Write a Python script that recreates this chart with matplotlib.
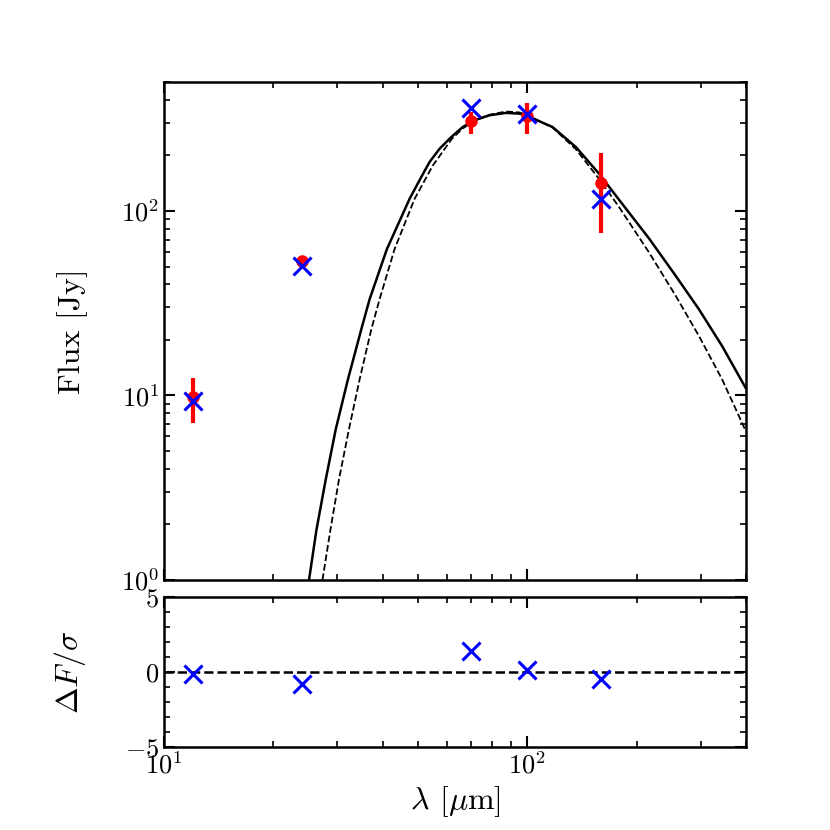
import numpy as np
import matplotlib
matplotlib.use('Agg')
from matplotlib import pyplot as plt
from matplotlib.ticker import MultipleLocator, NullFormatter

plt.rcParams['font.family'] = ['cmr10', 'DejaVu Serif']
plt.rcParams['mathtext.fontset'] = 'cm'
plt.rcParams['axes.unicode_minus'] = False
plt.rcParams['axes.formatter.use_mathtext'] = True

# photometry
wave = [12, 24, 70, 100, 160]
flux_obs = [9.8, 53.5, 307, 326, 142]
err_lo = [2.7, 1.5, 45, 66, 66]
err_hi = [2.7, 1.5, 37, 59, 65]
flux_model = [9.3, 50.5, 363, 337, 116]
resid = [-0.1, -0.8, 1.38, 0.16, -0.44]

# fitted SEDs
sed_wave = [25.07, 26.28, 27.87, 29.69, 32.08, 34.92, 36.81, 41.07, 47.41,
            51.0, 53.8, 57.3, 61.7, 66.4, 71.5, 78.6, 87.4, 95.1, 99.1,
            117.4, 136.1, 157.7, 178.9, 216.3, 256.2, 296.9, 344, 399]
sed_flux = [1.0, 1.87, 3.50, 6.54, 12.22, 22.84, 33.24, 62.14, 116.2,
            152, 184, 217, 251, 285, 310, 330, 340, 337, 330,
            285, 222, 159, 115, 71, 44.5, 29.3, 18.5, 11.0]
sed2_wave = [27.30, 28.71, 30.31, 32.28, 34.55, 37.21, 39.21, 43.12, 48.94,
             54.94, 62.0, 66.4, 71.5, 78.6, 87.4, 95.1, 99.1,
             117.4, 136.1, 157.7, 178.9, 216.3, 256.2, 296.9, 344, 399]
sed2_flux = [1.0, 1.87, 3.50, 6.54, 12.22, 22.84, 33.24, 62.14, 116.2,
             176.3, 246, 280, 308, 332, 346, 342, 333,
             283, 216, 149, 105, 59.6, 34.7, 21.0, 12.2, 6.45]

fig = plt.figure(figsize=(8.3, 8.3), dpi=100)
ax1 = fig.add_axes([0.1976, 0.3012, 0.7012, 0.6])
ax2 = fig.add_axes([0.1976, 0.1, 0.7012, 0.1807])

ax1.plot(sed_wave, sed_flux, color='k', lw=1.8)
ax1.plot(sed2_wave, sed2_flux, color='k', lw=1.3, ls='--')
ax1.errorbar(wave, flux_obs, yerr=[err_lo, err_hi], fmt='o', color='red',
             ms=8, elinewidth=3, capsize=0, zorder=3)
ax1.plot(wave, flux_model, 'x', color='blue', ms=13, mew=2.2, zorder=4)
ax1.set_xscale('log')
ax1.set_yscale('log')
ax1.set_xlim(10, 400)
ax1.set_ylim(1, 500)
ax1.set_ylabel('Flux [Jy]', fontsize=23)
ax1.xaxis.set_major_formatter(NullFormatter())
ax1.xaxis.set_minor_formatter(NullFormatter())

ax2.axhline(0, color='k', ls='--', lw=1.8)
ax2.plot(wave, resid, 'x', color='blue', ms=13, mew=2.2)
ax2.set_xscale('log')
ax2.set_xlim(10, 400)
ax2.set_ylim(-5, 5)
ax2.yaxis.set_major_locator(MultipleLocator(5))
ax2.yaxis.set_minor_locator(MultipleLocator(1))
ax2.set_ylabel(r'$\Delta F/\sigma$', fontsize=23)
ax2.set_xlabel(r'$\lambda$ [$\mu$m]', fontsize=23)
ax2.xaxis.set_minor_formatter(NullFormatter())

for ax in (ax1, ax2):
    for s in ax.spines.values():
        s.set_linewidth(1.8)
    ax.tick_params(which='both', direction='in', top=True, right=True,
                   labelsize=19)
    ax.tick_params(which='major', length=8, width=1.5)
    ax.tick_params(which='minor', length=4, width=1.2)

ax1.yaxis.set_label_coords(-0.13, 0.5)
ax2.yaxis.set_label_coords(-0.13, 0.5)

fig.savefig('out.png', dpi=100)
